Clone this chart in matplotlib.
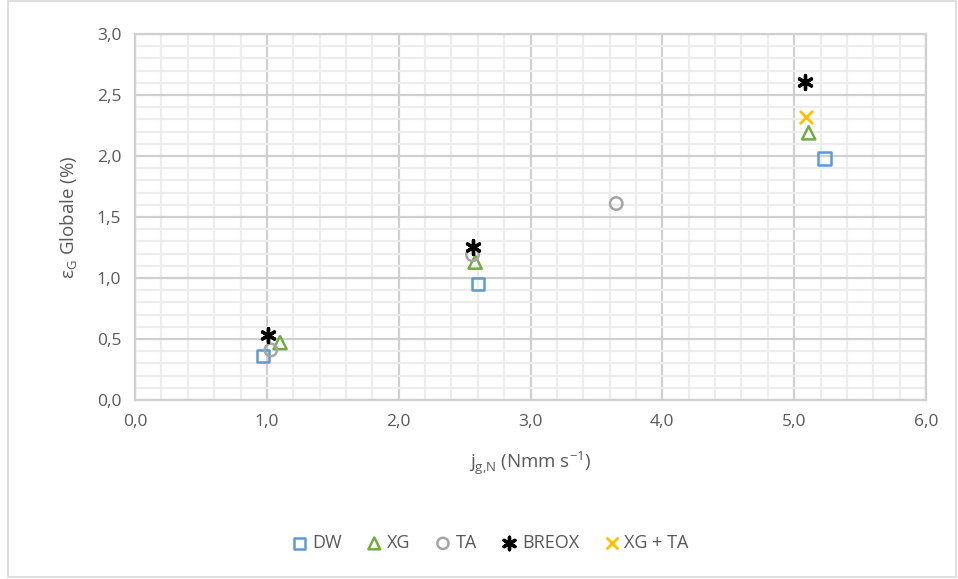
import numpy as np
import matplotlib.pyplot as plt
from matplotlib.ticker import MultipleLocator, FuncFormatter
from matplotlib.patches import Rectangle

# data
dw_x = [0.97, 2.60, 5.23]
dw_y = [0.36, 0.95, 1.98]
xg_x = [1.10, 2.58, 5.11]
xg_y = [0.47, 1.13, 2.19]
ta_x = [1.03, 2.56, 3.65]
ta_y = [0.41, 1.19, 1.61]
breox_x = [1.01, 2.56, 5.08]
breox_y = [0.53, 1.25, 2.61]
xgta_x = [5.09]
xgta_y = [2.32]

TXT = "#595959"
plt.rcParams["font.family"] = ["Open Sans", "DejaVu Sans"]

fig = plt.figure(figsize=(9.58, 5.79), dpi=100)
ax = fig.add_axes([0.141, 0.3092, 0.8256, 0.6321])

ax.scatter(dw_x, dw_y, marker="s", s=80, facecolors="none", edgecolors="#5b9bd5", linewidths=1.8, label="DW", zorder=3)
ax.scatter(xg_x, xg_y, marker="^", s=90, facecolors="none", edgecolors="#70ad47", linewidths=1.8, label="XG", zorder=3)
ax.scatter(ta_x, ta_y, marker="o", s=80, facecolors="none", edgecolors="#a5a5a5", linewidths=1.8, label="TA", zorder=3)
ax.scatter(breox_x, breox_y, marker=(6, 2, 0), s=100, color="black", linewidths=2.4, label="BREOX", zorder=4)
ax.scatter(xgta_x, xgta_y, marker="x", s=90, color="#ffc000", linewidths=2.0, label="XG + TA", zorder=3)

ax.set_xlim(0, 6)
ax.set_ylim(0, 3)
ax.xaxis.set_major_locator(MultipleLocator(1))
ax.xaxis.set_minor_locator(MultipleLocator(0.2))
ax.yaxis.set_major_locator(MultipleLocator(0.5))
ax.yaxis.set_minor_locator(MultipleLocator(0.1))
fmt = FuncFormatter(lambda v, p: f"{v:.1f}".replace(".", ","))
ax.xaxis.set_major_formatter(fmt)
ax.yaxis.set_major_formatter(fmt)
ax.grid(which="major", color="#d0d0d0", linewidth=1.6)
ax.grid(which="minor", color="#ededed", linewidth=1.6)
ax.set_axisbelow(True)
ax.tick_params(which="both", length=0, labelsize=12.5, labelcolor=TXT, pad=10)
for s in ax.spines.values():
    s.set_color("#d0d0d0")
    s.set_linewidth(1.6)

ax.set_xlabel(r"j$_{\mathregular{g{,}N}}$ (Nmm s$^{\mathregular{-1}}$)", fontsize=13.5, color=TXT, labelpad=14)
ax.set_ylabel(r"ε$_{\mathregular{G}}$ Globale (%)", fontsize=13.5, color=TXT, labelpad=12)

leg = fig.legend(loc="center", bbox_to_anchor=(0.512, 0.062), ncol=5, frameon=False,
                 fontsize=13, handlelength=0.8, handletextpad=0.3, columnspacing=1.4, markerscale=0.9)
for t in leg.get_texts():
    t.set_color(TXT)

fig.patches.append(Rectangle((0.008, 0.004), 0.99, 0.995, transform=fig.transFigure,
                             fill=False, edgecolor="#d9d9d9", linewidth=1.2))

fig.savefig("out.png", dpi=100)
